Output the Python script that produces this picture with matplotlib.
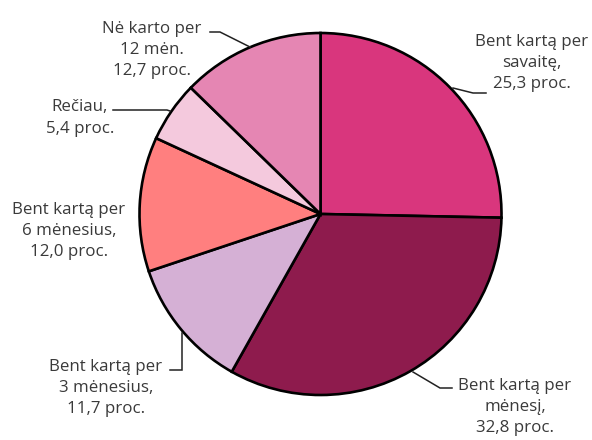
import matplotlib
matplotlib.use("Agg")
import matplotlib.pyplot as plt

categories = ["Bent kartą per\nsavaitę,", "Bent kartą per\nmėnesį,", "Bent kartą per\n3 mėnesius,",
              "Bent kartą per\n6 mėnesius,", "Rečiau,", "Nė karto per\n12 mėn."]
values = [25.3, 32.8, 11.7, 12.0, 5.4, 12.7]
value_labels = ["25,3 proc.", "32,8 proc.", "11,7 proc.", "12,0 proc.", "5,4 proc.", "12,7 proc."]
colors = ["#D9367D", "#8E1B4D", "#D5B0D5", "#FF7F7F", "#F4C9DD", "#E586B3"]

W, H = 592, 440
fig = plt.figure(figsize=(W / 100, H / 100), dpi=100)
ax = fig.add_axes([0, 0, 1, 1])

def py(y):
    return H - y

cx, cy, r = 320.5, 214, 181
ax.pie(values, colors=colors, startangle=90, counterclock=False, center=(cx, py(cy)), radius=r,
       wedgeprops=dict(edgecolor="black", linewidth=1.9), normalize=True)
ax.set_xlim(0, W)
ax.set_ylim(0, H)
ax.set_aspect("equal")
ax.axis("off")

font = dict(family="Open Sans", fontsize=12.2, color="#3a3a3a", ha="center", va="center",
            linespacing=1.42)

# label positions (pixel coordinates, center of text block)
label_pos = [(532, 63), (515, 407), (106, 388), (69, 231), (80, 118), (152, 50)]
for cat, vl, (lx, ly) in zip(categories, value_labels, label_pos):
    ax.text(lx, py(ly), cat + "\n" + vl, **font)

# leader lines
leaders = [
    [(453, 88), (473, 93), (486, 93)],
    [(413, 372), (440, 388), (452, 388)],
    [(170, 370), (182, 370), (182, 333)],
    [(113, 110), (167, 110), (170, 111)],
    [(210, 32), (220, 32), (250, 47)],
]
for pts in leaders:
    ax.plot([p[0] for p in pts], [py(p[1]) for p in pts], color="#222222", lw=1.1,
            solid_joinstyle="miter")

fig.savefig("out.png", dpi=100)
